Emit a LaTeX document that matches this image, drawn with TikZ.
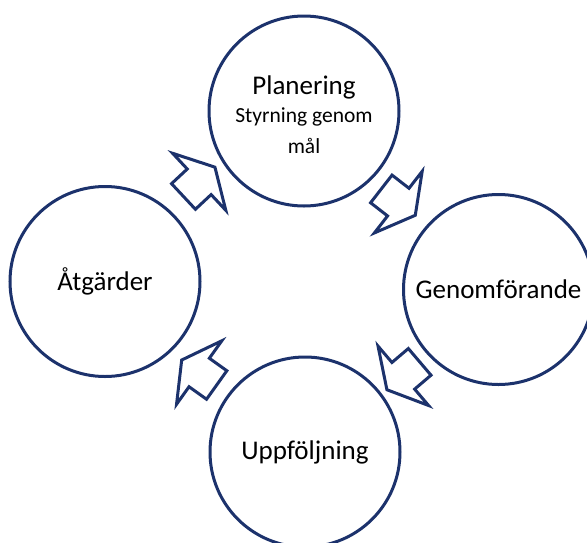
\documentclass[tikz,border=0pt]{standalone}
\usepackage{fontspec}
\setmainfont{Carlito}
\definecolor{cyclenavy}{RGB}{28,50,108}
\tikzset{phase/.style={draw=cyclenavy,line width=3pt,circle,minimum size=190pt,inner sep=0,align=center,font=\fontsize{27}{30}\selectfont},
    blockarrow/.style={draw=cyclenavy,line width=3pt,fill=white,line join=miter}
}
\newcommand{\phasearrow}[3]
{
% args: (x of centre, y of centre, angle of tip)
    \draw [blockarrow,shift={(#1,#2)},rotate=#3] (-21.5,-17.5) -- (0,-17.5) -- (0,-39) -- (21.5,0) -- (0,39) -- (0,17.5) -- (-21.5,17.5) -- cycle;
}
\begin{document}
\begin{tikzpicture}[x=1pt,y=-1pt]
\useasboundingbox (0,0) rectangle (587,542);
\clip (0,0) rectangle (587,542);

% phases
\node (plan) at (304,111) [phase] {\rule{0pt}{27pt}Planering\\[-2pt]{\fontsize{21.5}{28}\selectfont Styrning genom}\\[1pt]{\fontsize{21.5}{28}\selectfont mål}};
\node (genom) at (498.5,289.5) [phase] {Genomförande};
\node (uppf) at (305,452) [phase] {Uppföljning};
\node (atg) at (105,281.5) [phase] {Åtgärder};

% arrows between phases
\phasearrow{398.3}{202.1}{-37.8}
\phasearrow{403.3}{375.8}{220.4}
\phasearrow{199.2}{372.5}{144.5}
\phasearrow{199.2}{181.8}{43}

\end{tikzpicture}
\end{document}
